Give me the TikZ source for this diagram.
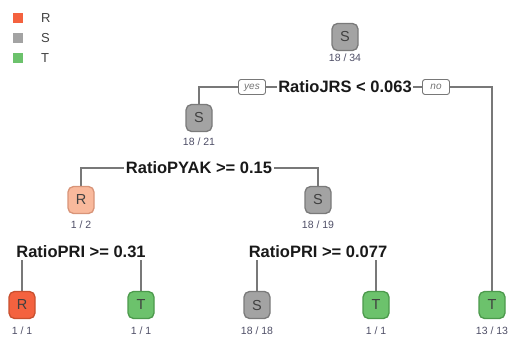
\documentclass[tikz,border=0pt]{standalone}
\usepackage{fontspec}
\setmainfont{Liberation Sans}
\usetikzlibrary{backgrounds}
\definecolor{cR}{HTML}{F4623F}
\definecolor{cRd}{HTML}{C8502F}
\definecolor{cRl}{HTML}{F9B99C}
\definecolor{cRld}{HTML}{D89478}
\definecolor{cS}{HTML}{A3A3A3}
\definecolor{cSd}{HTML}{7A7A7A}
\definecolor{cT}{HTML}{6CC26C}
\definecolor{cTd}{HTML}{4C9A4C}
\definecolor{cnt}{HTML}{4E4E66}
\definecolor{edgec}{HTML}{787878}
\begin{document}
\begin{tikzpicture}[x=1pt,y=-1pt,
  nodebox/.style={rounded corners=5.5pt, minimum width=26pt, minimum height=27pt, inner sep=0pt,
    line width=1.3pt, font=\fontsize{14.5}{14.5}\selectfont, text=black!75},
  gbox/.style={nodebox, fill=cS, draw=cSd},
  rbox/.style={nodebox, fill=cR, draw=cRd},
  lrbox/.style={nodebox, fill=cRl, draw=cRld},
  tbox/.style={nodebox, fill=cT, draw=cTd},
  cntlbl/.style={font=\fontsize{10.5}{10.5}\selectfont, text=cnt, inner sep=0pt},
  splitlbl/.style={font=\bfseries\fontsize{16.5}{16.5}\selectfont, fill=white, inner sep=1.5pt, text=black!90},
  yn/.style={draw=edgec, fill=white, rounded corners=2.5pt, font=\itshape\fontsize{10}{10}\selectfont,
    text=black!55, inner sep=1.5pt, text height=7pt, text depth=2pt, minimum height=15pt,
    minimum width=27pt, line width=0.9pt},
  edge/.style={draw=edgec, line width=1.3pt},
  legsq/.style={minimum size=10pt, inner sep=0pt},
  legtxt/.style={font=\fontsize{13}{13}\selectfont, text=black!75, anchor=west, inner sep=0pt}
]
\useasboundingbox (0,0) rectangle (516,341);
% legend
\node[legsq, fill=cR] (lr) at (18,18) {};
\node[legsq, fill=cS] (ls) at (18,38) {};
\node[legsq, fill=cT] (lt) at (18,58) {};
\node[legtxt] (lrt) at (41,18) {R};
\node[legtxt] (lst) at (41,38) {S};
\node[legtxt] (ltt) at (41,58) {T};
% root
\node[gbox] (n1) at (345,37) {S};
\node[cntlbl] (c1) at (345,58) {18 / 34};
\node[splitlbl] (s1) at (345,87) {RatioJRS < 0.063};
\node[yn] (yes) at (252,87) {yes};
\node[yn] (no) at (436,87) {no};
% level 2
\node[gbox] (n2) at (199,118) {S};
\node[cntlbl] (c2) at (199,142) {18 / 21};
\node[splitlbl] (s2) at (199,168) {RatioPYAK >= 0.15};
\node[tbox] (n3) at (492,305) {T};
\node[cntlbl] (c3) at (492,331) {13 / 13};
% level 3
\node[lrbox] (n4) at (81,200) {R};
\node[cntlbl] (c4) at (81,225) {1 / 2};
\node[splitlbl] (s4) at (81,252) {RatioPRI >= 0.31};
\node[gbox] (n5) at (318,200) {S};
\node[cntlbl] (c5) at (318,225) {18 / 19};
\node[splitlbl] (s5) at (318,252) {RatioPRI >= 0.077};
% leaves
\node[rbox] (n6) at (22,305) {R};
\node[cntlbl] (c6) at (22,331) {1 / 1};
\node[tbox] (n7) at (141,305) {T};
\node[cntlbl] (c7) at (141,331) {1 / 1};
\node[gbox] (n8) at (257,305) {S};
\node[cntlbl] (c8) at (257,331) {18 / 18};
\node[tbox] (n9) at (376,305) {T};
\node[cntlbl] (c9) at (376,331) {1 / 1};
\begin{pgfonlayer}{background}
\draw[edge] (n2.north) -- (n2.north |- s1) -- (n3.north |- s1) -- (n3.north);
\draw[edge] (n4.north) -- (n4.north |- s2) -- (n5.north |- s2) -- (n5.north);
\draw[edge] (n6.north) -- (n6.north |- s4) -- (n7.north |- s4) -- (n7.north);
\draw[edge] (n8.north) -- (n8.north |- s5) -- (n9.north |- s5) -- (n9.north);
\end{pgfonlayer}
\end{tikzpicture}
\end{document}
